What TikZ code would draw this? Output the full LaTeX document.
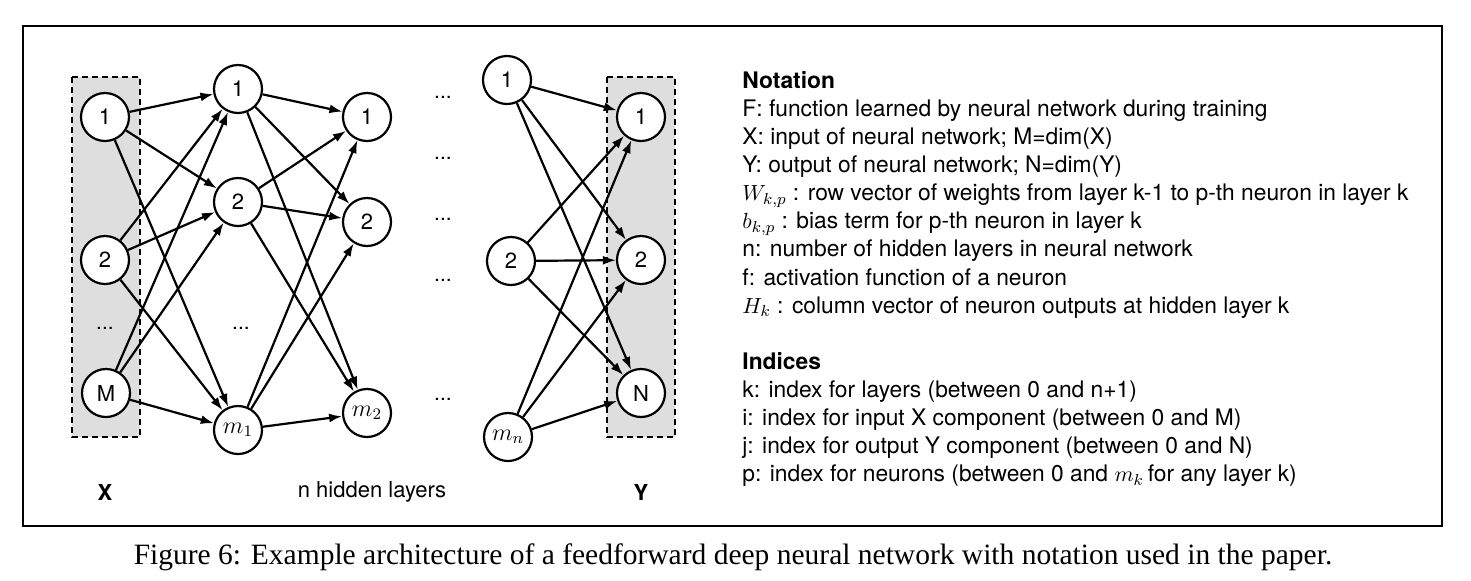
\documentclass[tikz,border=0pt]{standalone}
\usepackage[no-math]{fontspec}
\setmainfont{TeX Gyre Heros}
\newfontfamily\capfont{Liberation Serif}
\usetikzlibrary{arrows.meta, positioning}

\tikzset{
  neuron/.style={draw, circle, line width=1.1pt, fill=white, minimum size=24pt, inner sep=0pt, font=\fontsize{11}{11}\selectfont},
  mneuron/.style={neuron, font=\fontsize{12}{12}\selectfont},
  conn/.style={-{Latex[length=6.5pt,width=4.5pt]}, line width=1.1pt},
  layerbox/.style={draw, dash pattern=on 3pt off 2pt, line width=1.2pt, fill=black!13},
  dotsnode/.style={font=\fontsize{10.5}{10.5}\selectfont},
  layerlabel/.style={font=\fontsize{11}{11}\selectfont}
}

\begin{document}
\begin{tikzpicture}[x=0.5pt, y=-0.5pt]
    \useasboundingbox (0,0) rectangle (1471,580);

    % Outer frame
    \draw[line width=1.1pt] (23,26) rectangle (1442,526);

    % Input and output boxes
    \draw[layerbox] (72,77) rectangle (140,437);
    \draw[layerbox] (607,77) rectangle (675,437);

    % Input layer X
    \node[neuron] (x1) at (105,117) {1};
    \node[neuron] (x2) at (105,260) {2};
    \node[dotsnode] (xd) at (105,328) {...};
    \node[neuron] (xM) at (106,393) {M};

    % First hidden layer
    \node[neuron] (a1) at (238,89) {1};
    \node[neuron] (a2) at (238,202) {2};
    \node[dotsnode] (ad) at (241,328) {...};
    \node[mneuron] (am) at (238,430) {$m_1$};

    % Second hidden layer
    \node[neuron] (b1) at (367,117) {1};
    \node[neuron] (b2) at (367,222) {2};
    \node[mneuron] (bm) at (367,413) {$m_2$};

    % Skipped layers
    \foreach \y [count=\i] in {97,158,219,280,399}
        \node[dotsnode] (skip\i) at (443,\y) {...};

    % Last hidden layer
    \node[neuron] (c1) at (507,80) {1};
    \node[neuron] (c2) at (511,261) {2};
    \node[mneuron] (cm) at (508,437) {$m_n$};

    % Output layer Y
    \node[neuron] (y1) at (641,117) {1};
    \node[neuron] (y2) at (641,260) {2};
    \node[neuron] (yN) at (641,393) {N};

    % Connections
    \foreach \s in {x1,x2,xM}
        \foreach \t in {a1,a2,am}
            \draw[conn] (\s) -- (\t);
    \foreach \s in {a1,a2,am}
        \foreach \t in {b1,b2,bm}
            \draw[conn] (\s) -- (\t);
    \foreach \s in {c1,c2,cm}
        \foreach \t in {y1,y2,yN}
            \draw[conn] (\s) -- (\t);

    % Layer labels
    \node[layerlabel] (xlab) at (105,492) {\textbf{X}};
    \node[layerlabel] (hlab) at (372,492) {n hidden layers};
    \node[layerlabel] (ylab) at (641,492) {\textbf{Y}};

    % Notation and indices
    \node[anchor=north west, align=left, inner sep=0pt,
          font=\fontsize{11.4}{14.05}\selectfont] (notation) at (742,71) {%
        \textbf{Notation}\\
        F: function learned by neural network during training\\
        X: input of neural network; M=dim(X)\\
        Y: output of neural network; N=dim(Y)\\
        $W_{k,p}$ : row vector of weights from layer k-1 to p-th neuron in layer k\\
        $b_{k,p}$ : bias term for p-th neuron in layer k\\
        n: number of hidden layers in neural network\\
        f: activation function of a neuron\\
        $H_k$ : column vector of neuron outputs at hidden layer k\\[14.05pt]
        \textbf{Indices}\\
        k: index for layers (between 0 and n+1)\\
        i: index for input X component (between 0 and M)\\
        j: index for output Y component (between 0 and N)\\
        p: index for neurons (between 0 and $m_k$\,for any layer k)};

    % Caption
    \node[font=\capfont\fontsize{14.75}{14.75}\selectfont] (caption) at (733,557)
        {Figure 6: Example architecture of a feedforward deep neural network with notation used in the paper.};
\end{tikzpicture}
\end{document}
